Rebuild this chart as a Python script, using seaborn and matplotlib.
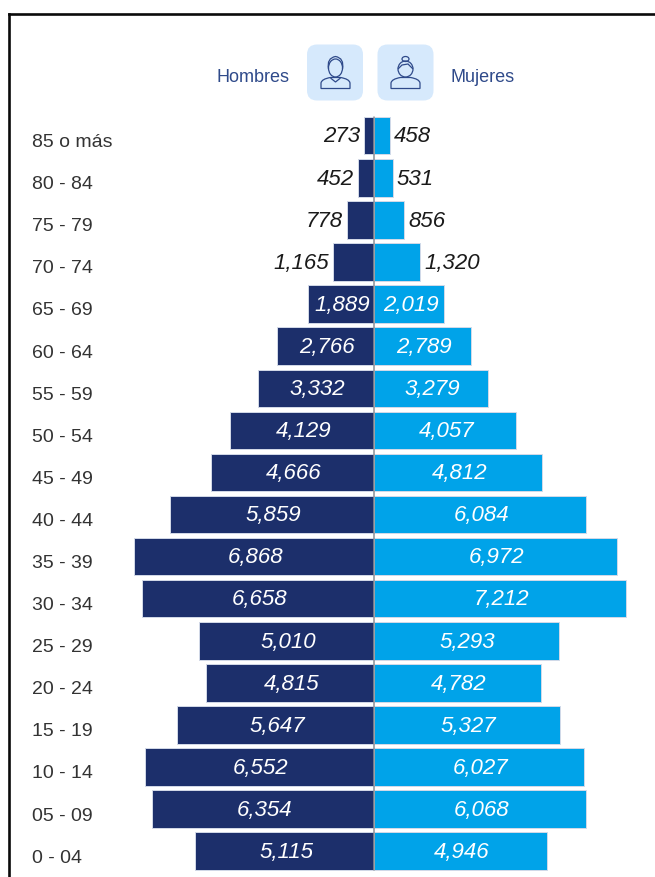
import matplotlib
matplotlib.use("Agg")
import matplotlib.pyplot as plt
import pandas as pd
import seaborn as sns
from matplotlib.patches import FancyBboxPatch, Ellipse, PathPatch
from matplotlib.path import Path
from matplotlib.transforms import Affine2D, ScaledTranslation

age_groups = ["85 o más", "80 - 84", "75 - 79", "70 - 74", "65 - 69", "60 - 64",
              "55 - 59", "50 - 54", "45 - 49", "40 - 44", "35 - 39", "30 - 34",
              "25 - 29", "20 - 24", "15 - 19", "10 - 14", "05 - 09", "0 - 04"]
hombres = [273, 452, 778, 1165, 1889, 2766, 3332, 4129, 4666, 5859, 6868, 6658,
           5010, 4815, 5647, 6552, 6354, 5115]
mujeres = [458, 531, 856, 1320, 2019, 2789, 3279, 4057, 4812, 6084, 6972, 7212,
           5293, 4782, 5327, 6027, 6068, 4946]

NAVY = "#1c2f6b"
BLUE = "#00a3e9"
TILE = "#d6e9fc"
INK = "#2f4a8a"
W, H = 655, 878
PX_PER_UNIT = 0.0349
CENTER_X = 374
ROW_0_Y = 136.7
ROW_PITCH = 42.09
LEFT, TOP = 9, 15

sns.set_theme(style="white")
plt.rcParams["font.family"] = ["Liberation Sans", "DejaVu Sans"]

df = pd.DataFrame({
    "edad": age_groups * 2,
    "sexo": ["Hombres"] * len(age_groups) + ["Mujeres"] * len(age_groups),
    "poblacion": [-v for v in hombres] + list(mujeres),
})

fig = plt.figure(figsize=(W / 100, H / 100), dpi=100, facecolor="white")
ax = fig.add_axes([LEFT / W, 0, (W - LEFT) / W, (H - TOP) / H])
sns.barplot(data=df, y="edad", x="poblacion", hue="sexo", order=age_groups,
            hue_order=["Hombres", "Mujeres"], palette=[NAVY, BLUE], dodge=False,
            width=0.89, orient="h", legend=False, edgecolor="#d3dae8", linewidth=0.7,
            saturation=1, ax=ax)

ax.set_xlim((LEFT - CENTER_X) / PX_PER_UNIT, (W - CENTER_X) / PX_PER_UNIT)
ax.set_ylim((H - ROW_0_Y) / ROW_PITCH, (TOP - ROW_0_Y) / ROW_PITCH)
ax.plot([0, 0], [-0.45, len(age_groups) - 0.55], color="#8c8f96", lw=1.1, zorder=5)

ax.set_xlabel("")
ax.set_ylabel("")
ax.set_xticks([])
ax.tick_params(axis="y", length=0, pad=-16.5, labelsize=14, labelcolor="#333333")
shift = ScaledTranslation(0, -3.9 / 100, fig.dpi_scale_trans)
for lab in ax.get_yticklabels():
    lab.set_ha("left")
    lab.set_transform(lab.get_transform() + shift)

for side, sp in ax.spines.items():
    sp.set_visible(side in ("left", "top"))
    sp.set_color("#0a0a0a")
    sp.set_linewidth(1.9)

# value labels
for i, (m, f) in enumerate(zip(hombres, mujeres)):
    for val, sign in ((m, -1), (f, 1)):
        txt = f"{val:,}"
        if val < 1500:
            ax.annotate(txt, (sign * val, i), xytext=(sign * 3.0, -0.2),
                        textcoords="offset points",
                        ha="right" if sign < 0 else "left", va="center",
                        fontsize=16, style="italic", color="#1a1a1a", zorder=6)
        else:
            ax.annotate(txt, (sign * val / 2, i), xytext=(1, -0.2),
                        textcoords="offset points", ha="center", va="center",
                        fontsize=16, style="italic", color="white", zorder=6)

# header: pixel coordinates, y pointing down
px = Affine2D().scale(1, -1).translate(0, H)
fig.text(290 / W, 1 - 77.5 / H, "Hombres", ha="right", va="center", fontsize=13, color=INK)
fig.text(451 / W, 1 - 77.5 / H, "Mujeres", ha="left", va="center", fontsize=13, color=INK)

for x0 in (307, 377.5):
    fig.add_artist(FancyBboxPatch((x0 + 9, 54.5), 38, 38,
                                  boxstyle="round,pad=9,rounding_size=10",
                                  fc=TILE, ec="none", transform=px))


def bust(cx):
    verts = [(cx - 14.5, 89.5), (cx - 14.5, 84), (cx - 14, 80), (cx - 5, 78.5),
             (cx + 5, 78.5), (cx + 14, 80), (cx + 14.5, 84), (cx + 14.5, 89.5),
             (cx - 14.5, 89.5)]
    codes = [Path.MOVETO, Path.LINETO, Path.CURVE3, Path.CURVE3,
             Path.LINETO, Path.CURVE3, Path.CURVE3, Path.LINETO, Path.CLOSEPOLY]
    fig.add_artist(PathPatch(Path(verts, codes), fc="none", ec=INK, lw=0.9, transform=px))


# man
bust(335.5)
fig.add_artist(Ellipse((335.5, 69), 14, 18, fc="none", ec=INK, lw=0.9, transform=px))
fig.add_artist(PathPatch(Path([(328.5, 70), (326.5, 59), (335.5, 57.5), (344.5, 59), (342.5, 70)],
                              [Path.MOVETO, Path.CURVE3, Path.CURVE3, Path.CURVE3, Path.CURVE3]),
                         fc="none", ec=INK, lw=0.9, transform=px))
fig.add_artist(PathPatch(Path([(330.5, 79), (335.5, 83), (340.5, 79)]),
                         fc="none", ec=INK, lw=0.9, transform=px))
# woman
bust(405.5)
fig.add_artist(Ellipse((405.5, 70), 15, 16, fc="none", ec=INK, lw=0.9, transform=px))
fig.add_artist(Ellipse((405.5, 60), 7, 5, fc="none", ec=INK, lw=0.9, transform=px))
fig.add_artist(PathPatch(Path([(398, 70), (402, 66), (408, 65), (413, 70)]),
                         fc="none", ec=INK, lw=0.9, transform=px))

fig.savefig("out.png", dpi=100)
